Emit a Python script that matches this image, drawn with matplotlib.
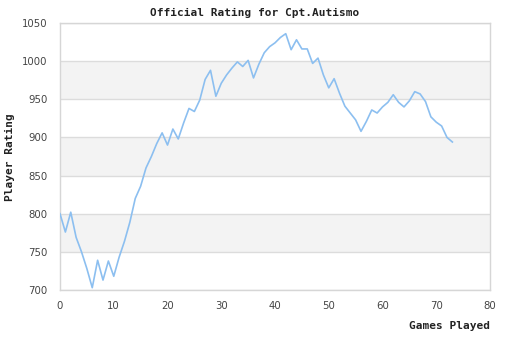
import matplotlib
matplotlib.use("Agg")
import matplotlib.pyplot as plt

# Rating after each game played
games = list(range(74))
rating = [800, 776, 802, 769, 750, 728, 703, 739, 713, 738, 718, 743, 764, 789, 820,
          836, 860, 875, 892, 906, 890, 911, 898, 919, 938, 934, 949, 976, 988, 954,
          971, 982, 991, 999, 993, 1001, 978, 996, 1011, 1019, 1024, 1031, 1036, 1015,
          1028, 1016, 1016, 997, 1004, 982, 965, 977, 958, 941, 932, 923, 908, 921,
          936, 932, 940, 946, 956, 946, 940, 948, 960, 957, 947, 927, 920, 915, 900, 894]

x_ticks = [0, 10, 20, 30, 40, 50, 60, 70, 80]
y_ticks = [700, 750, 800, 850, 900, 950, 1000, 1050]
bands = [(750, 800), (850, 900), (950, 1000)]

fig = plt.figure(figsize=(5.1, 3.4), dpi=100)
ax = fig.add_axes([60 / 510, 1 - 290 / 340, 430 / 510, 267 / 340])

for lo, hi in bands:
    ax.axhspan(lo, hi, color="#f3f3f3", zorder=0, lw=0)
for v in y_ticks:
    ax.axhline(v, color="#dcdcdc", lw=1.0, zorder=1)

ax.plot(games, rating, color="#8cbff0", lw=1.2, zorder=3)

ax.set_xlim(0, 80)
ax.set_ylim(700, 1050)
ax.set_xticks(x_ticks)
ax.set_yticks(y_ticks)
ax.tick_params(length=0, labelsize=7.3, colors="#444444")
ax.tick_params(axis="y", pad=9)
ax.tick_params(axis="x", pad=8)
for s in ax.spines.values():
    s.set_color("#d6d6d6")
    s.set_linewidth(1.0)

mono = dict(family="DejaVu Sans Mono", weight="bold", size=8, color="#222222")
fig.text(255 / 510, 1 - 13 / 340, "Official Rating for Cpt.Autismo", ha="center", va="center", **mono)
fig.text(10 / 510, 1 - 157 / 340, "Player Rating", ha="center", va="center", rotation=90, **mono)
fig.text(490 / 510, 1 - 326 / 340, "Games Played", ha="right", va="center", **mono)

fig.savefig("out.png", dpi=100, facecolor="white")
